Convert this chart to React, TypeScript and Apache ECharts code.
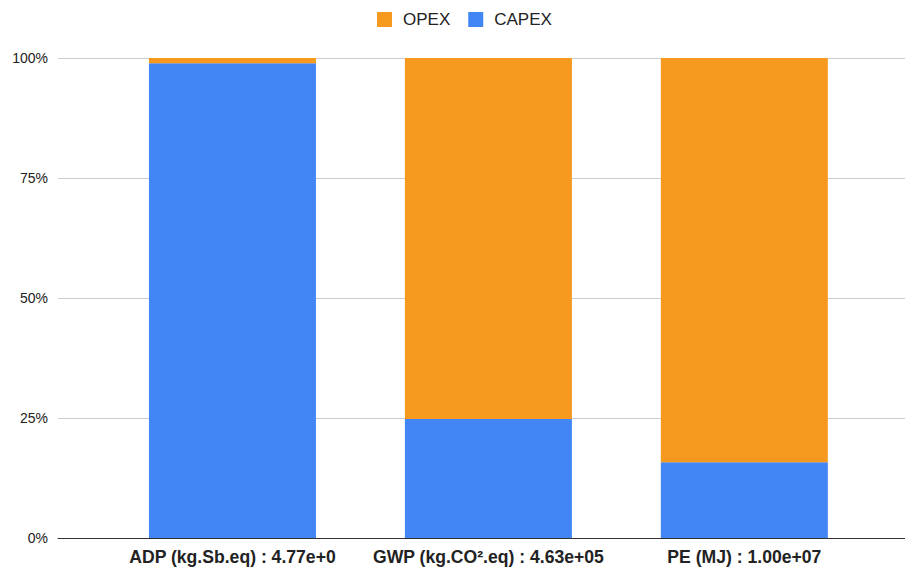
import React, { useEffect, useRef } from "react";
import * as echarts from "echarts";

const categories = [
  "ADP (kg.Sb.eq) : 4.77e+0",
  "GWP (kg.CO².eq) : 4.63e+05",
  "PE (MJ) : 1.00e+07",
];
const capexShare = [98.9, 24.8, 15.8];
const opexShare = [1.1, 75.2, 84.2];
const yTicks = [0, 25, 50, 75, 100];

const FONT = "'Liberation Sans', Arial, sans-serif";

export default function App() {
  const ref = useRef<HTMLDivElement>(null);
  useEffect(() => {
    if (!ref.current) return;
    const chart = echarts.init(ref.current, undefined, { renderer: "svg" });
    chart.setOption({
      animation: false,
      textStyle: { fontFamily: FONT },
      color: ["#4285F4", "#F7991E"],
      legend: {
        data: ["OPEX", "CAPEX"],
        left: 372,
        top: 6,
        itemWidth: 15,
        itemHeight: 15,
        itemGap: 18,
        icon: "rect",
        textStyle: { fontSize: 17, color: "#222", fontFamily: FONT, padding: [0, 0, 0, 6] },
      },
      grid: [
        { left: 58, right: 0, top: 58, bottom: 31 },
        { left: 104.5, right: 32.7, top: 58, bottom: 31 },
      ],
      xAxis: [
        {
          gridIndex: 0,
          type: "category",
          data: [""],
          axisLine: { show: true, lineStyle: { color: "#333", width: 1 } },
          axisTick: { show: false },
          axisLabel: { show: false },
        },
        {
          gridIndex: 1,
          type: "category",
          data: categories,
          axisLine: { show: false },
          axisTick: { show: false },
          axisLabel: {
            fontSize: 17.6,
            fontWeight: "bold",
            color: "#222",
            fontFamily: FONT,
            margin: 10,
            interval: 0,
          },
        },
      ],
      yAxis: [
        {
          gridIndex: 0,
          type: "value",
          min: yTicks[0],
          max: yTicks[yTicks.length - 1],
          interval: 25,
          axisLine: { show: false },
          axisTick: { show: false },
          axisLabel: {
            formatter: "{value}%",
            fontSize: 14,
            color: "#222",
            fontFamily: FONT,
            margin: 10,
          },
          splitLine: { lineStyle: { color: "#cccccc", width: 1 } },
        },
        {
          gridIndex: 1,
          type: "value",
          min: 0,
          max: 100,
          show: false,
        },
      ],
      series: [
        {
          name: "CAPEX",
          type: "bar",
          stack: "total",
          xAxisIndex: 1,
          yAxisIndex: 1,
          barWidth: 167,
          data: capexShare,
          itemStyle: { color: "#4285F4" },
        },
        {
          name: "OPEX",
          type: "bar",
          stack: "total",
          xAxisIndex: 1,
          yAxisIndex: 1,
          barWidth: 167,
          data: opexShare,
          itemStyle: { color: "#F7991E" },
        },
      ],
    });
    return () => chart.dispose();
  }, []);
  return (
    <div
      ref={ref}
      style={{ position: "fixed", left: 0, top: 0, width: 905, height: 569, background: "#fff" }}
    />
  );
}
